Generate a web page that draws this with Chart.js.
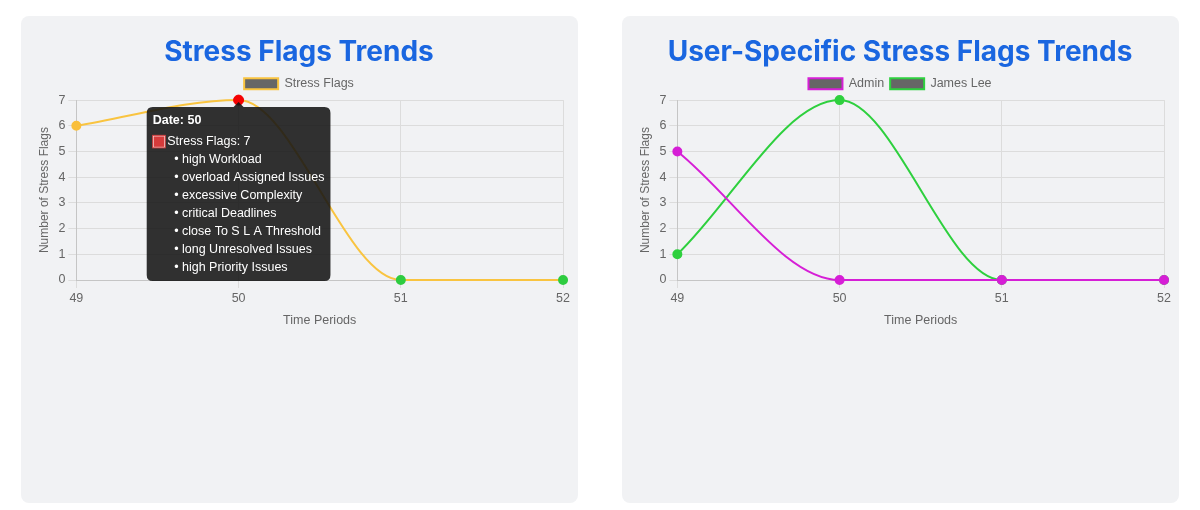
<!DOCTYPE html>
<html><head><meta charset="utf-8">
<script src="https://cdn.jsdelivr.net/npm/chart.js@4"></script>
<style>
body{margin:0;background:#fff;font-family:"Liberation Sans",Arial,sans-serif;}
.card{position:absolute;top:16px;width:557px;height:487px;background:#f1f2f4;border-radius:8px;}
.wrap{position:absolute;left:12px;top:16px;width:540px;height:300px;}
</style></head><body>
<div class="card" style="left:21px"><div class="wrap"><canvas id="c1"></canvas></div></div>
<div class="card" style="left:622px"><div class="wrap"><canvas id="c2"></canvas></div></div>
<script>
const periods = ['49','50','51','52'];
const stressFlags = [6,7,0,0];
const stressPointColors = ['#f9bf3b','#d63b3b','#2ecc40','#2ecc40'];
const flagReasons = [[], ['high Workload','overload Assigned Issues','excessive Complexity','critical Deadlines','close To S L A Threshold','long Unresolved Issues','high Priority Issues'], [], []];
const adminFlags = [5,0,0,0];
const jamesFlags = [1,7,0,0];
const yTicks = [0,1,2,3,4,5,6,7];

Chart.defaults.font.family = '"Liberation Sans", Arial, sans-serif';
Chart.defaults.color = '#666';
function opts(title){
  return {
    responsive:true, maintainAspectRatio:false, animation:false,
    layout:{padding:{right:8}},
    plugins:{
      title:{display:true,text:title,color:'#1a66e0',font:{size:28,weight:'bold',family:'Inter, "Liberation Sans", sans-serif'},padding:{top:4,bottom:2}},
      legend:{labels:{boxWidth:34,boxHeight:11,padding:6,font:{size:12.5}}},
      tooltip:{backgroundColor:'rgba(20,20,20,0.88)',titleFont:{size:12.5,weight:'bold'},bodyFont:{size:12.5},yAlign:'top',bodySpacing:3,
        callbacks:{
          title:items=>'Date: '+items[0].label,
          afterLabel:ctx=>(flagReasons[ctx.dataIndex]||[]).map(r=>'  • '+r),
          labelColor:()=>({borderColor:'#d63b3b',backgroundColor:'#d63b3b'})
        }}
    },
    scales:{
      x:{title:{display:true,text:'Time Periods',font:{size:12.5}},ticks:{font:{size:12.5}},grid:{color:'#dcdcdc'}},
      y:{min:0,max:7,title:{display:true,text:'Number of Stress Flags',font:{size:12}},ticks:{stepSize:1,font:{size:12.5},callback:(v)=>yTicks.includes(v)?v:''},grid:{color:'#dcdcdc'}}
    }
  };
}
const c1 = new Chart(document.getElementById('c1'),{type:'line',data:{labels:periods,datasets:[{
  label:'Stress Flags',data:stressFlags,borderColor:'#f9c440',backgroundColor:'#666',borderWidth:2,clip:false,
  pointBackgroundColor:stressPointColors,pointBorderColor:stressPointColors,pointRadius:4,pointHoverRadius:5,
  cubicInterpolationMode:'monotone'}]},options:opts('Stress Flags Trends')});
const p = c1.getDatasetMeta(0).data[1];
c1.setActiveElements([{datasetIndex:0,index:1}]);
c1.tooltip.setActiveElements([{datasetIndex:0,index:1}],{x:p.x,y:p.y});
c1.update('none');

new Chart(document.getElementById('c2'),{type:'line',data:{labels:periods,datasets:[
  {label:'Admin',data:adminFlags,borderColor:'#d61fd6',backgroundColor:'#666',pointBackgroundColor:'#d61fd6',pointBorderColor:'#d61fd6',borderWidth:2,pointRadius:4,clip:false,cubicInterpolationMode:'monotone'},
  {label:'James Lee',data:jamesFlags,borderColor:'#2ed03e',backgroundColor:'#666',pointBackgroundColor:'#2ed03e',pointBorderColor:'#2ed03e',borderWidth:2,pointRadius:4,clip:false,cubicInterpolationMode:'monotone'}
]},options:opts('User-Specific Stress Flags Trends')});
</script></body></html>
